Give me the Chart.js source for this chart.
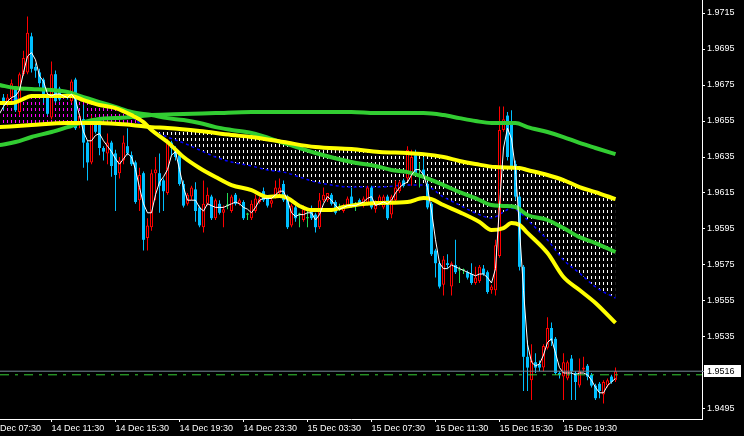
<!DOCTYPE html>
<html><head><meta charset="utf-8">
<script src="https://cdn.jsdelivr.net/npm/chart.js@4.4.1/dist/chart.umd.min.js"></script>
<style>html,body{margin:0;padding:0;background:#000;overflow:hidden}canvas{display:block}</style>
</head><body>
<canvas id="c" width="744" height="436"></canvas>
<script>
// ---- data (15-minute bars, bar index 0 = 14 Dec 07:30) ----
const firstBar = 4;
const open = [
1.9668,1.9665,1.9668,1.9673,1.9660,1.9681,1.9682,1.9702,1.9685,1.9682,
1.9678,1.9669,1.9657,1.9681,1.9673,1.9669,1.9670,1.9666,1.9678,1.9653,
1.9656,1.9643,1.9632,1.9654,1.9654,1.9640,1.9637,1.9643,1.9637,1.9626,
1.9633,1.9641,1.9636,1.9632,1.9611,1.9626,1.9590,1.9596,1.9626,1.9626,
1.9622,1.9615,1.9643,1.9639,1.9636,1.9620,1.9609,1.9613,1.9617,1.9607,
1.9596,1.9609,1.9613,1.9601,1.9609,1.9604,1.9608,1.9605,1.9614,1.9609,
1.9610,1.9603,1.9601,1.9605,1.9610,1.9616,1.9612,1.9609,1.9613,1.9615,
1.9620,1.9613,1.9597,1.9607,1.9603,1.9600,1.9601,1.9606,1.9603,1.9596,
1.9611,1.9611,1.9614,1.9610,1.9607,1.9605,1.9608,1.9613,1.9608,1.9611,
1.9608,1.9609,1.9618,1.9606,1.9609,1.9607,1.9613,1.9603,1.9611,1.9616,
1.9622,1.9623,1.9626,1.9636,1.9625,1.9628,1.9620,1.9609,1.9583,1.9576,
1.9564,1.9576,1.9563,1.9575,1.9572,1.9572,1.9571,1.9570,1.9565,1.9566,
1.9573,1.9571,1.9561,1.9561,1.9580,1.9650,1.9658,1.9654,1.9631,1.9613,
1.9574,1.9524,1.9511,1.9521,1.9520,1.9518,1.9529,1.9540,1.9534,1.9515,
1.9513,1.9512,1.9523,1.9515,1.9508,1.9517,1.9519,1.9514,1.9508,1.9509,
1.9503,1.9508,1.9513,1.9511];
const high = [
1.9670,1.9670,1.9678,1.9674,1.9682,1.9694,1.9713,1.9704,1.9687,1.9684,
1.9679,1.9670,1.9688,1.9683,1.9674,1.9670,1.9671,1.9678,1.9679,1.9659,
1.9664,1.9644,1.9658,1.9656,1.9655,1.9641,1.9648,1.9644,1.9639,1.9635,
1.9647,1.9651,1.9638,1.9633,1.9629,1.9627,1.9601,1.9628,1.9635,1.9637,
1.9623,1.9645,1.9644,1.9641,1.9637,1.9622,1.9615,1.9619,1.9621,1.9608,
1.9622,1.9618,1.9614,1.9612,1.9611,1.9608,1.9615,1.9614,1.9615,1.9612,
1.9611,1.9604,1.9611,1.9614,1.9613,1.9618,1.9613,1.9613,1.9622,1.9623,
1.9622,1.9614,1.9609,1.9608,1.9604,1.9608,1.9605,1.9608,1.9604,1.9615,
1.9618,1.9615,1.9615,1.9611,1.9609,1.9609,1.9613,1.9618,1.9610,1.9612,
1.9613,1.9619,1.9619,1.9611,1.9614,1.9614,1.9614,1.9614,1.9622,1.9622,
1.9623,1.9641,1.9639,1.9639,1.9632,1.9635,1.9621,1.9610,1.9584,1.9577,
1.9580,1.9581,1.9577,1.9589,1.9574,1.9573,1.9572,1.9576,1.9574,1.9575,
1.9575,1.9572,1.9564,1.9589,1.9663,1.9663,1.9660,1.9661,1.9633,1.9614,
1.9575,1.9533,1.9531,1.9526,1.9522,1.9531,1.9546,1.9543,1.9535,1.9516,
1.9526,1.9522,1.9525,1.9516,1.9523,1.9524,1.9520,1.9515,1.9509,1.9510,
1.9511,1.9512,1.9514,1.9518];
const low = [
1.9661,1.9663,1.9666,1.9660,1.9658,1.9680,1.9681,1.9682,1.9679,1.9674,
1.9665,1.9658,1.9656,1.9665,1.9666,1.9668,1.9667,1.9665,1.9650,1.9651,
1.9629,1.9622,1.9631,1.9648,1.9636,1.9633,1.9631,1.9624,1.9605,1.9623,
1.9631,1.9636,1.9630,1.9609,1.9605,1.9583,1.9583,1.9594,1.9611,1.9604,
1.9605,1.9614,1.9636,1.9633,1.9619,1.9607,1.9608,1.9611,1.9599,1.9596,
1.9593,1.9608,1.9600,1.9600,1.9603,1.9596,1.9606,1.9604,1.9608,1.9608,
1.9600,1.9600,1.9600,1.9604,1.9609,1.9610,1.9607,1.9607,1.9612,1.9614,
1.9610,1.9595,1.9596,1.9599,1.9596,1.9599,1.9596,1.9600,1.9593,1.9595,
1.9610,1.9610,1.9608,1.9603,1.9605,1.9604,1.9607,1.9607,1.9605,1.9608,
1.9607,1.9608,1.9606,1.9604,1.9608,1.9606,1.9600,1.9601,1.9610,1.9615,
1.9618,1.9622,1.9619,1.9625,1.9618,1.9623,1.9606,1.9580,1.9568,1.9562,
1.9558,1.9573,1.9558,1.9570,1.9565,1.9570,1.9567,1.9564,1.9564,1.9565,
1.9569,1.9559,1.9559,1.9558,1.9579,1.9649,1.9633,1.9629,1.9611,1.9572,
1.9505,1.9505,1.9500,1.9515,1.9516,1.9516,1.9528,1.9530,1.9514,1.9512,
1.9500,1.9511,1.9500,1.9500,1.9507,1.9516,1.9511,1.9507,1.9500,1.9501,
1.9498,1.9507,1.9509,1.9510];
const close = [
1.9664,1.9668,1.9676,1.9661,1.9681,1.9690,1.9704,1.9684,1.9683,1.9676,
1.9668,1.9659,1.9681,1.9666,1.9667,1.9670,1.9668,1.9677,1.9651,1.9658,
1.9643,1.9632,1.9655,1.9649,1.9640,1.9638,1.9643,1.9630,1.9625,1.9633,
1.9643,1.9637,1.9631,1.9610,1.9625,1.9589,1.9597,1.9626,1.9628,1.9619,
1.9616,1.9643,1.9640,1.9635,1.9620,1.9608,1.9614,1.9618,1.9605,1.9597,
1.9609,1.9614,1.9601,1.9611,1.9604,1.9606,1.9608,1.9613,1.9609,1.9611,
1.9601,1.9603,1.9609,1.9612,1.9612,1.9611,1.9608,1.9611,1.9618,1.9618,
1.9611,1.9596,1.9608,1.9601,1.9603,1.9606,1.9601,1.9601,1.9596,1.9611,
1.9614,1.9615,1.9609,1.9604,1.9607,1.9608,1.9612,1.9608,1.9608,1.9609,
1.9612,1.9618,1.9607,1.9610,1.9613,1.9613,1.9601,1.9613,1.9618,1.9621,
1.9619,1.9639,1.9635,1.9626,1.9625,1.9624,1.9607,1.9581,1.9576,1.9563,
1.9578,1.9575,1.9576,1.9571,1.9572,1.9572,1.9568,1.9565,1.9568,1.9574,
1.9570,1.9560,1.9563,1.9586,1.9650,1.9656,1.9635,1.9630,1.9613,1.9574,
1.9524,1.9518,1.9522,1.9518,1.9518,1.9530,1.9540,1.9533,1.9515,1.9514,
1.9521,1.9521,1.9516,1.9510,1.9516,1.9518,1.9513,1.9508,1.9501,1.9505,
1.9510,1.9511,1.9510,1.9516];

// short moving average (white), one value per bar from bar 3
const maWhiteStart = 3;
const maWhite = [
1.9659,1.9663,1.9666,1.9668,1.9669,1.9672,1.9682,1.9691,1.9693,1.9689,
1.9680,1.9677,1.9670,1.9669,1.9670,1.9670,1.9669,1.9668,1.9670,1.9667,
1.9658,1.9649,1.9644,1.9644,1.9647,1.9648,1.9644,1.9641,1.9638,1.9634,
1.9631,1.9634,1.9637,1.9635,1.9628,1.9618,1.9609,1.9604,1.9604,1.9614,
1.9621,1.9624,1.9628,1.9636,1.9638,1.9628,1.9618,1.9611,1.9611,1.9611,
1.9607,1.9605,1.9609,1.9608,1.9607,1.9607,1.9607,1.9608,1.9609,1.9610,
1.9609,1.9607,1.9606,1.9604,1.9607,1.9611,1.9612,1.9612,1.9612,1.9614,
1.9616,1.9616,1.9611,1.9604,1.9602,1.9603,1.9603,1.9604,1.9604,1.9600,
1.9603,1.9609,1.9613,1.9611,1.9608,1.9606,1.9607,1.9608,1.9608,1.9608,
1.9609,1.9610,1.9612,1.9613,1.9608,1.9609,1.9610,1.9609,1.9611,1.9615,
1.9618,1.9620,1.9621,1.9625,1.9628,1.9628,1.9625,1.9618,1.9605,1.9589,
1.9576,1.9573,1.9573,1.9575,1.9574,1.9573,1.9572,1.9571,1.9570,1.9569,
1.9570,1.9570,1.9568,1.9565,1.9573,1.9608,1.9640,1.9651,1.9645,1.9628,
1.9595,1.9561,1.9531,1.9521,1.9519,1.9520,1.9525,1.9532,1.9534,1.9526,
1.9518,1.9515,1.9515,1.9515,1.9514,1.9515,1.9515,1.9514,1.9511,1.9507,
1.9504,1.9504,1.9508,1.9510,1.9512];

// yellow line A (upper edge of the hatched band on the right)
const yellowAX = [3,11,20,28,36,41,45,53,61,66,74,82,91,98,105,109,114,118,122,127,133,135,140,144,148,152,157];
const yellowA  = [1.96516,1.96528,1.96539,1.96539,1.96528,1.96516,1.96511,1.96494,1.96472,1.96461,1.96433,1.96405,1.96394,1.96378,1.96372,1.96366,1.96350,1.96328,1.96311,1.96294,1.96289,1.96278,1.96250,1.96222,1.96183,1.96155,1.96116];
// yellow line B (faster, falls below)
const yellowBX = [3,6,10,11,21,24,28,32,36,39,41,45,49,53,57,61,66,70,73,75,78,81,86,89,97,105,109,111,114,118,123,126,129,131,133,135,140,144,148,152,157];
const yellowB  = [1.96650,1.96650,1.96683,1.96689,1.96689,1.96666,1.96639,1.96622,1.96583,1.96544,1.96500,1.96433,1.96350,1.96289,1.96239,1.96194,1.96166,1.96128,1.96133,1.96122,1.96078,1.96055,1.96055,1.96072,1.96094,1.96100,1.96122,1.96116,1.96083,1.96044,1.95989,1.95944,1.95955,1.95983,1.95972,1.95928,1.95816,1.95683,1.95611,1.95539,1.95428];
// green line 1 (declining)
const green1X = [3,7,11,16,20,24,28,32,36,41,45,49,53,57,61,66,74,82,91,97,101,105,109,114,118,122,126,129,132,135,140,144,148,152,157];
const green1  = [1.96750,1.96733,1.96728,1.96722,1.96711,1.96683,1.96655,1.96628,1.96600,1.96583,1.96566,1.96555,1.96539,1.96516,1.96500,1.96483,1.96428,1.96372,1.96322,1.96300,1.96278,1.96266,1.96239,1.96194,1.96155,1.96122,1.96083,1.96078,1.96072,1.96028,1.96000,1.95955,1.95905,1.95872,1.95822];
// green line 2 (slow)
const green2X = [3,7,11,16,20,24,28,32,36,41,49,57,66,78,91,97,109,114,118,122,126,132,135,140,144,148,152,157];
const green2  = [1.96416,1.96433,1.96461,1.96489,1.96516,1.96544,1.96561,1.96566,1.96572,1.96583,1.96589,1.96594,1.96600,1.96600,1.96600,1.96594,1.96594,1.96583,1.96566,1.96550,1.96539,1.96539,1.96516,1.96489,1.96461,1.96428,1.96400,1.96366];
// blue dotted line (other edge of the hatched band)
const blueX = [3,10,21,28,32,36,39,45,49,53,57,61,66,70,74,78,82,86,91,98,105,109,114,118,122,126,129,131,133,135,140,144,148,152,157];
const blueSpan = [1.96650,1.96683,1.96689,1.96650,1.96622,1.96572,1.96522,1.96461,1.96428,1.96389,1.96350,1.96322,1.96300,1.96278,1.96266,1.96239,1.96211,1.96194,1.96183,1.96183,1.96194,1.96194,1.96128,1.96083,1.96039,1.96011,1.96044,1.96066,1.96044,1.96000,1.95889,1.95778,1.95705,1.95628,1.95566];

const lastPrice = 1.9516;
const askPrice = 1.9514;
const xTickBars = [0,16,32,48,64,80,96,112,128,144];
const xTickLabels = ['14 Dec 07:30','14 Dec 11:30','14 Dec 15:30','14 Dec 19:30','14 Dec 23:30','15 Dec 03:30','15 Dec 07:30','15 Dec 11:30','15 Dec 15:30','15 Dec 19:30'];
const yTickLabels = ['1.9715','1.9695','1.9675','1.9655','1.9635','1.9615','1.9595','1.9575','1.9555','1.9535','1.9495'];

// ---- chart ----
const FONT = '"Liberation Sans", Arial, sans-serif';
const RED = '#ff0000', BLUE = '#00bfff', DOJI = '#22dd55';
const canvas = document.getElementById('c');
const ctx0 = canvas.getContext('2d');
function hatch(color){
  const p = document.createElement('canvas'); p.width = 4; p.height = 6;
  const g = p.getContext('2d'); g.fillStyle = color; g.fillRect(3,0,1,3);
  return ctx0.createPattern(p,'repeat');
}
const whiteHatch = hatch('#ffffff');
const magentaHatch = hatch('#ff00ff');

const bars = open.map((_,k)=>firstBar+k);
const dir = open.map((o,k)=> close[k]>o ? 1 : (close[k]<o ? -1 : 0));
const pts = (xs,ys)=> xs.map((x,k)=>({x, y: ys[k]}));
const lineDs = (label,data,color,width,order,extra)=>Object.assign({
  type:'line', label, data, borderColor:color, borderWidth:width, pointRadius:0,
  cubicInterpolationMode:'monotone', fill:false, order}, extra||{});

const xMin = 3.125, xMax = 178.625;
const yMax = 1.9715 + 13/18000, yMin = 1.9715 - 406/18000;
const noPad = s => { s.paddingLeft = 0; s.paddingRight = 0; s.paddingTop = 0; s.paddingBottom = 0; };

const mtPlugin = {
  id:'mt',
  beforeDraw(chart){
    const c = chart.ctx; c.save(); c.fillStyle = '#000'; c.fillRect(0,0,chart.width,chart.height); c.restore();
  },
  afterDraw(chart){
    const c = chart.ctx, ys = chart.scales.y;
    const y = Math.round(ys.getPixelForValue(lastPrice));
    const x0 = chart.chartArea.right;
    c.save();
    c.fillStyle = '#778899'; c.fillRect(x0, y, 3, 1);
    c.fillStyle = '#ffffff'; c.fillRect(x0+2, y-6, 37, 12);
    c.fillStyle = '#000000'; c.font = '9px ' + FONT; c.textBaseline = 'middle'; c.textAlign = 'left';
    c.fillText(lastPrice.toFixed(4), x0+5, y+0.5);
    c.restore();
  }
};

new Chart(canvas, {
  type:'bar',
  data:{ datasets:[
    lineDs('blue', pts(blueX, blueSpan), '#0000ff', 1.5, 10, {borderDash:[3,3], fill:{target:1, above:magentaHatch, below:whiteHatch}}),
    lineDs('yellowA', pts(yellowAX, yellowA), '#ffff00', 4, 2),
    lineDs('yellowB', pts(yellowBX, yellowB), '#ffff00', 4, 2),
    lineDs('green1', pts(green1X, green1), '#32cd32', 4, 2),
    lineDs('green2', pts(green2X, green2), '#32cd32', 4, 2),
    { type:'bar', label:'wicks', data: bars.map((x,k)=>({x, y:[low[k], high[k]]})),
      backgroundColor: dir.map(d=> d>0?RED:(d<0?BLUE:DOJI)), borderWidth:0,
      barThickness:1, grouped:false, inflateAmount:0, order:6 },
    { type:'bar', label:'bodies', data: bars.map((x,k)=>({x, y:[open[k], close[k]]})),
      backgroundColor: dir.map(d=> d>0?'#000000':(d<0?BLUE:DOJI)),
      borderColor: dir.map(d=> d>0?RED:'rgba(0,0,0,0)'),
      borderWidth: dir.map(d=> d>0?1:0), borderSkipped:false,
      barThickness:3, minBarLength:1, grouped:false, inflateAmount:0, order:5 },
    lineDs('ma', maWhite.map((v,k)=>({x: maWhiteStart+k, y: v})), '#ffffff', 1, 1, {cubicInterpolationMode:'default', tension:0}),
    lineDs('ask', [{x:xMin,y:askPrice},{x:xMax,y:askPrice}], '#32cd32', 1, 0, {borderDash:[9,6,3,6]}),
    lineDs('bid', [{x:xMin,y:lastPrice},{x:xMax,y:lastPrice}], '#778899', 1, 0)
  ]},
  options:{
    responsive:false, devicePixelRatio:1, animation:false,
    layout:{padding:0},
    plugins:{ legend:{display:false}, tooltip:{enabled:false} },
    scales:{
      x:{ type:'linear', min:xMin, max:xMax, offset:false,
        afterBuildTicks: s => { s.ticks = xTickBars.map(v=>({value:v})); },
        afterFit: s => { s.height = 17; noPad(s); },
        ticks:{ color:'#ffffff', font:{family:FONT, size:9}, padding:1, align:'start', maxRotation:0, minRotation:0, autoSkip:false,
                callback:(v,i)=> xTickLabels[i] },
        grid:{ display:true, drawOnChartArea:false, drawTicks:true, tickLength:3, color:'#ffffff', offset:false },
        border:{ display:true, color:'#ffffff', width:1 }
      },
      y:{ type:'linear', position:'right', min:yMin, max:yMax, beginAtZero:false,
        afterBuildTicks: s => { s.ticks = yTickLabels.map(t=>({value:parseFloat(t)})); },
        afterFit: s => { s.width = 42; noPad(s); },
        ticks:{ color:'#ffffff', font:{family:FONT, size:9}, padding:2, autoSkip:false,
                callback:(v)=> Number(v).toFixed(4) },
        grid:{ display:true, drawOnChartArea:false, drawTicks:true, tickLength:3, color:'#ffffff' },
        border:{ display:true, color:'#ffffff', width:1 }
      }
    }
  },
  plugins:[mtPlugin]
});
</script>
</body></html>
